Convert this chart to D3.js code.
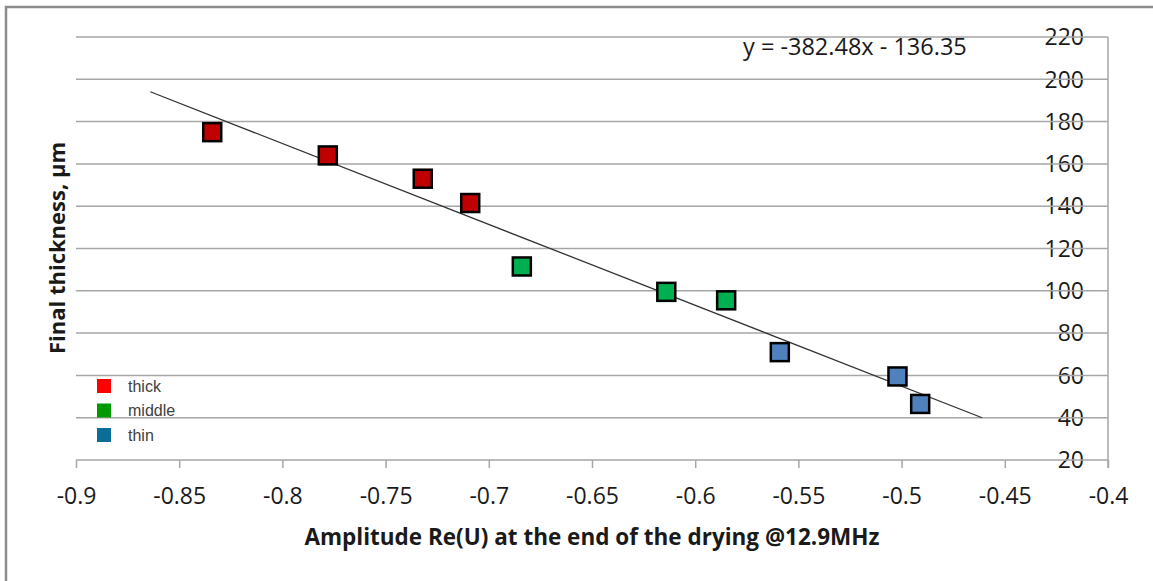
<!DOCTYPE html>
<html>
<head>
<meta charset="utf-8">
<script src="https://cdn.jsdelivr.net/npm/d3@7"></script>
<style>
  body { margin: 0; background: #fff; }
  text { font-family: "Open Sans", sans-serif; }
</style>
</head>
<body>
<div id="chart"></div>
<script>
var w = 1153;
var h = 581;

// measured points: amplitude Re(U) vs final thickness
var amplitude = [-0.834, -0.778, -0.732, -0.709, -0.684, -0.614, -0.585, -0.559, -0.502, -0.491];
var thickness = [175, 164, 153, 141.5, 111.5, 99.5, 95.5, 71, 59.5, 46.5];
var group = ["thick", "thick", "thick", "thick", "middle", "middle", "middle", "thin", "thin", "thin"];

// linear trendline as given in the chart, extended 0.03 both sides
var trendSlope = -382.48;
var trendIntercept = -136.35;
var trendForecast = 0.03;

var xTicks = [-0.9, -0.85, -0.8, -0.75, -0.7, -0.65, -0.6, -0.55, -0.5, -0.45, -0.4];
var yTicks = [20, 40, 60, 80, 100, 120, 140, 160, 180, 200, 220];

var legendNames = ["thick", "middle", "thin"];
var legendColors = ["#FF0000", "#009A00", "#0B6D98"];
var markerColors = {"thick": "#C00000", "middle": "#00B050", "thin": "#4F81BD"};

var svg = d3.select("#chart")
  .append("svg")
  .attr("width", w)
  .attr("height", h);

// outer frame (cut at right/bottom in the original)
svg.append("path")
  .attr("d", "M6,590 L6,7 L1160,7")
  .attr("fill", "none")
  .attr("stroke", "#8c8c8c")
  .attr("stroke-width", 2.5);

var x = d3.scaleLinear().domain([-0.9, -0.4]).range([76, 1108]);
var y = d3.scaleLinear().domain([20, 220]).range([460, 37]);

// y labels sit left of the right-hand axis, gridlines run through them
svg.selectAll(".ylab")
  .data(yTicks)
  .enter()
  .append("text")
  .attr("x", 1084)
  .attr("y", function(d) { return y(d); })
  .attr("dy", "0.36em")
  .attr("text-anchor", "end")
  .style("font-size", "23px")
  .style("fill", "#1a1a1a")
  .text(function(d) { return d; });

svg.selectAll(".grid")
  .data(yTicks)
  .enter()
  .append("line")
  .attr("x1", 76)
  .attr("x2", 1108)
  .attr("y1", function(d) { return y(d); })
  .attr("y2", function(d) { return y(d); })
  .attr("stroke", "#a6a6a6")
  .attr("stroke-width", 1.5);

// right vertical axis
svg.append("line")
  .attr("x1", 1108).attr("x2", 1108)
  .attr("y1", y(220)).attr("y2", 468)
  .attr("stroke", "#a6a6a6")
  .attr("stroke-width", 1.5);

// x axis
var xAxis = d3.axisBottom(x)
  .tickValues(xTicks)
  .tickSize(8)
  .tickPadding(20)
  .tickFormat(function(d) { return String(d); });

var gx = svg.append("g")
  .attr("transform", "translate(0," + y(20) + ")")
  .call(xAxis);
gx.select(".domain").remove();
gx.selectAll("line").attr("stroke", "#a6a6a6").attr("stroke-width", 1.5);
gx.selectAll("text")
  .style("font-size", "23px")
  .style("font-family", "Open Sans, sans-serif")
  .style("fill", "#1a1a1a");

// trendline
var tx0 = d3.min(amplitude) - trendForecast;
var tx1 = d3.max(amplitude) + trendForecast;
svg.append("line")
  .attr("x1", x(tx0))
  .attr("y1", y(trendSlope * tx0 + trendIntercept))
  .attr("x2", x(tx1))
  .attr("y2", y(trendSlope * tx1 + trendIntercept))
  .attr("stroke", "#333")
  .attr("stroke-width", 1.3);

// markers
var ms = 18;
svg.selectAll(".pt")
  .data(amplitude)
  .enter()
  .append("rect")
  .attr("x", function(d) { return x(d) - ms / 2; })
  .attr("y", function(d, i) { return y(thickness[i]) - ms / 2; })
  .attr("width", ms)
  .attr("height", ms)
  .attr("fill", function(d, i) { return markerColors[group[i]]; })
  .attr("stroke", "#000")
  .attr("stroke-width", 2.5);

// equation
svg.append("text")
  .attr("x", 743)
  .attr("y", 55)
  .style("font-size", "23.5px")
  .style("fill", "#1a1a1a")
  .text("y = " + trendSlope + "x - " + Math.abs(trendIntercept));

// legend
var lg = svg.selectAll(".leg")
  .data(legendNames)
  .enter()
  .append("g")
  .attr("transform", function(d, i) { return "translate(97," + (379 + i * 24.5) + ")"; });
lg.append("rect")
  .attr("width", 14)
  .attr("height", 14)
  .attr("fill", function(d, i) { return legendColors[i]; });
lg.append("text")
  .attr("x", 31)
  .attr("y", 7)
  .attr("dy", "0.36em")
  .style("font-family", "Liberation Sans, Arial, sans-serif")
  .style("font-size", "16px")
  .style("fill", "#404040")
  .text(function(d) { return d; });

// axis titles
svg.append("text")
  .attr("x", 592)
  .attr("y", 545)
  .attr("text-anchor", "middle")
  .style("font-size", "22.5px")
  .style("font-weight", "bold")
  .style("fill", "#1a1a1a")
  .text("Amplitude Re(U) at the end of the drying @12.9MHz");

svg.append("text")
  .attr("transform", "translate(65,248) rotate(-90)")
  .attr("text-anchor", "middle")
  .style("font-size", "22px")
  .style("font-weight", "bold")
  .style("fill", "#1a1a1a")
  .text("Final thickness, µm");
</script>
</body>
</html>
